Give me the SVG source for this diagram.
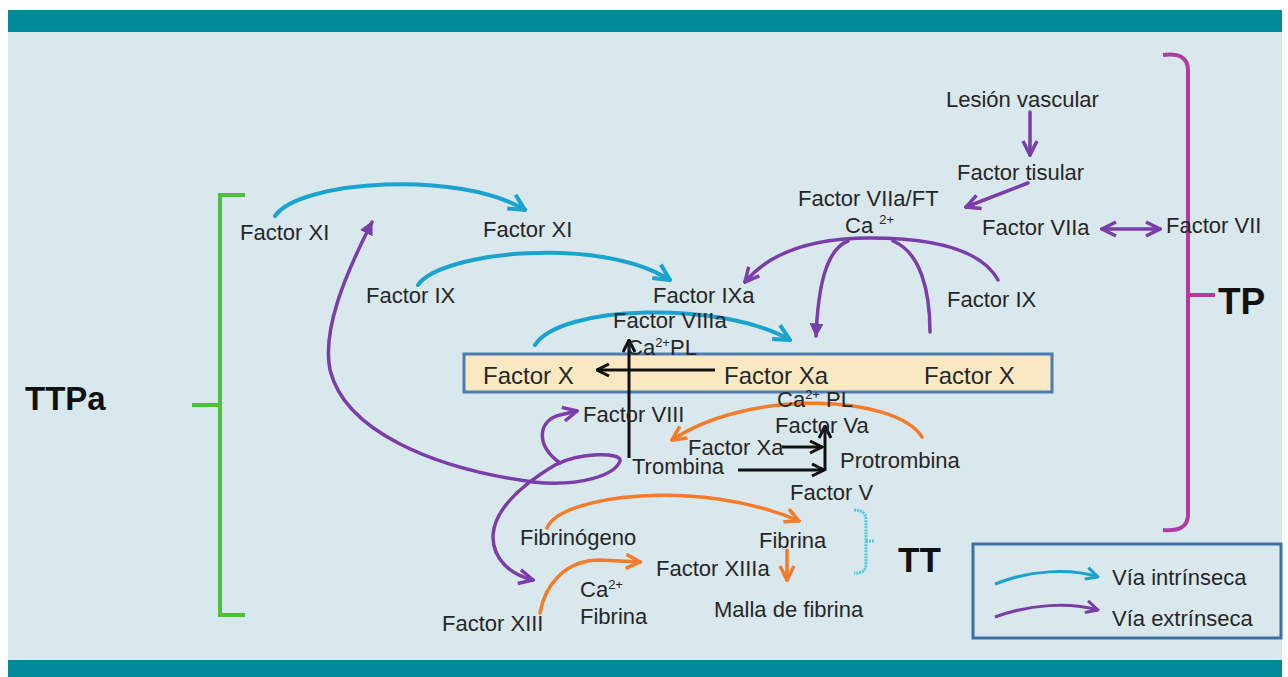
<svg xmlns="http://www.w3.org/2000/svg" width="1288" height="677" viewBox="0 0 1288 677">
<style>
text{font-family:"Liberation Sans",Arial,sans-serif;font-size:22px;fill:#262626}
.box{font-size:24px}
.big{font-weight:bold;fill:#111}
.sup{font-size:13px}
.cy{fill:none;stroke:#1AA3CF;stroke-width:4;stroke-linecap:round}
.pu{fill:none;stroke:#7A3DAA;stroke-width:3.5;stroke-linecap:round}
.or{fill:none;stroke:#F47B2A;stroke-width:3.5;stroke-linecap:round}
.bk{fill:none;stroke:#111;stroke-width:3}
</style>
<defs>
<marker id="mc" viewBox="0 0 10 10" refX="9" refY="5" markerWidth="5" markerHeight="5" orient="auto" markerUnits="strokeWidth"><path d="M1,1 L9,5 L1,9" fill="none" stroke="#1AA3CF" stroke-width="2"/></marker>
<marker id="mp" viewBox="0 0 10 10" refX="9" refY="5" markerWidth="5" markerHeight="5" orient="auto-start-reverse" markerUnits="strokeWidth"><path d="M1,1 L9,5 L1,9" fill="none" stroke="#7A3DAA" stroke-width="2"/></marker>
<marker id="mpf" viewBox="0 0 10 10" refX="9" refY="5" markerWidth="4" markerHeight="4" orient="auto-start-reverse" markerUnits="strokeWidth"><path d="M0,0 L10,5 L0,10 Z" fill="#7A3DAA"/></marker>
<marker id="mo" viewBox="0 0 10 10" refX="9" refY="5" markerWidth="5" markerHeight="5" orient="auto" markerUnits="strokeWidth"><path d="M1,1 L9,5 L1,9" fill="none" stroke="#F47B2A" stroke-width="2"/></marker>
<marker id="mk" viewBox="0 0 10 10" refX="9" refY="5" markerWidth="5" markerHeight="5" orient="auto" markerUnits="strokeWidth"><path d="M1,1 L9,5 L1,9" fill="none" stroke="#111" stroke-width="2"/></marker>
</defs>
<rect width="1288" height="677" fill="#ffffff"/>
<rect x="8" y="32" width="1274" height="628" fill="#D9E8EC"/>
<rect x="8" y="10" width="1274" height="22" fill="#008A99"/>
<rect x="8" y="660" width="1274" height="17" fill="#008A99"/>

<g id="brackets">
<path d="M245,195 L220,195 L220,615 L245,615 M192,405 L220,405" fill="none" stroke="#4DBF3A" stroke-width="4"/>
<path d="M1163,55 Q1188,52 1188,70 L1188,515 Q1188,532 1163,530 M1188,295 L1215,295" fill="none" stroke="#B23AA5" stroke-width="4"/>
<path d="M854,510 Q866,510 866,520 L866,564 Q866,574 854,573 M866,541 L875,541" fill="none" stroke="#4CC8E0" stroke-width="3" stroke-dasharray="2 1"/>
<text class="big" x="25" y="410" style="font-size:33px">TTPa</text>
<text class="big" x="1218" y="314" style="font-size:37px">TP</text>
<text class="big" x="898" y="572" style="font-size:35px">TT</text>
</g>

<g id="factorXbox">
<rect x="464" y="354" width="588" height="38" fill="#FAE8C2" stroke="#4A7DB5" stroke-width="3"/>
<text class="box" x="483" y="384">Factor X</text>
<text class="box" x="724" y="384">Factor Xa</text>
<text class="box" x="924" y="384">Factor X</text>
</g>

<g id="connectors">
<path class="cy" d="M275,216 C300,180 460,170 525,210" marker-end="url(#mc)"/>
<path class="cy" d="M418,285 C440,252 600,235 670,280" marker-end="url(#mc)"/>
<path class="cy" d="M535,345 C560,305 720,300 790,340" marker-end="url(#mc)"/>
<path class="pu" d="M1030,112 L1030,155" marker-end="url(#mp)"/>
<path class="pu" stroke-width="3" d="M1028,183 L966,207" marker-end="url(#mp)"/>
<path class="pu" d="M1102,229 L1160,229" marker-start="url(#mp)" marker-end="url(#mp)"/>
<path class="pu" d="M998,280 Q975,238 870,238 Q782,238 745,282" marker-end="url(#mp)"/>
<path class="pu" d="M848,241 C825,250 818,290 816,336" marker-end="url(#mpf)"/>
<path class="pu" d="M893,241 C920,252 930,290 930,332"/>
<path class="pu" stroke-width="3" d="M372,222 C345,275 322,330 330,370 C345,430 430,468 533,482 C580,487 615,475 620,461 C622,452 580,452 555,465 C530,480 495,505 493,535 C492,560 512,575 533,580" marker-start="url(#mpf)" marker-end="url(#mp)"/>
<path class="pu" stroke-width="3" d="M560,463 C535,445 538,420 560,415 L577,411" marker-end="url(#mp)"/>
<path class="or" d="M922,437 C895,395 750,388 672,440" marker-end="url(#mo)"/>
<path class="or" d="M547,528 C560,495 700,478 799,521" marker-end="url(#mo)"/>
<path class="or" d="M540,613 C545,585 565,560 600,560 L640,562" marker-end="url(#mo)"/>
<path class="or" d="M787,550 L787,580" marker-end="url(#mo)"/>
<path class="bk" d="M629,458 L629,340" marker-end="url(#mk)"/>
<path class="bk" d="M715,370 L597,370" marker-end="url(#mk)"/>
<path class="bk" d="M782,447 L822,447" marker-end="url(#mk)"/>
<path class="bk" d="M738,470 L824,470" marker-end="url(#mk)"/>
<path class="bk" d="M825,471 L825,426" marker-end="url(#mk)"/>
</g>

<g id="labels">
<text x="240" y="240">Factor XI</text>
<text x="483" y="237">Factor XI</text>
<text x="366" y="303">Factor IX</text>
<text x="653" y="303">Factor IXa</text>
<text x="613" y="328">Factor VIIIa</text>
<text x="627" y="355">Ca<tspan class="sup" dy="-8">2+</tspan><tspan dy="8">PL</tspan></text>
<text x="583" y="422">Factor VIII</text>
<text x="777" y="407">Ca<tspan class="sup" dy="-8">2+</tspan><tspan dy="8"> PL</tspan></text>
<text x="775" y="433">Factor Va</text>
<text x="688" y="455">Factor Xa</text>
<text x="632" y="474">Trombina</text>
<text x="840" y="468">Protrombina</text>
<text x="790" y="500">Factor V</text>
<text x="520" y="545">Fibrinógeno</text>
<text x="759" y="548">Fibrina</text>
<text x="656" y="576">Factor XIIIa</text>
<text x="580" y="597">Ca<tspan class="sup" dy="-8">2+</tspan></text>
<text x="580" y="624">Fibrina</text>
<text x="442" y="631">Factor XIII</text>
<text x="714" y="617">Malla de fibrina</text>
<text x="946" y="107">Lesión vascular</text>
<text x="957" y="180">Factor tisular</text>
<text x="798" y="206">Factor VIIa/FT</text>
<text x="845" y="233">Ca <tspan class="sup" dy="-9">2+</tspan></text>
<text x="982" y="235">Factor VIIa</text>
<text x="1166" y="233">Factor VII</text>
<text x="947" y="307">Factor IX</text>
</g>

<g id="legend">
<rect x="973" y="544" width="308" height="94" fill="none" stroke="#3D6FA8" stroke-width="3"/>
<path d="M995,584 C1030,570 1070,568 1098,577" fill="none" stroke="#1AA3CF" stroke-width="3" marker-end="url(#mc)"/>
<path d="M995,617 C1030,604 1070,602 1098,610" fill="none" stroke="#7A3DAA" stroke-width="3" marker-end="url(#mp)"/>
<text x="1112" y="585">Vía intrínseca</text>
<text x="1112" y="626">Vía extrínseca</text>
</g>
</svg>
